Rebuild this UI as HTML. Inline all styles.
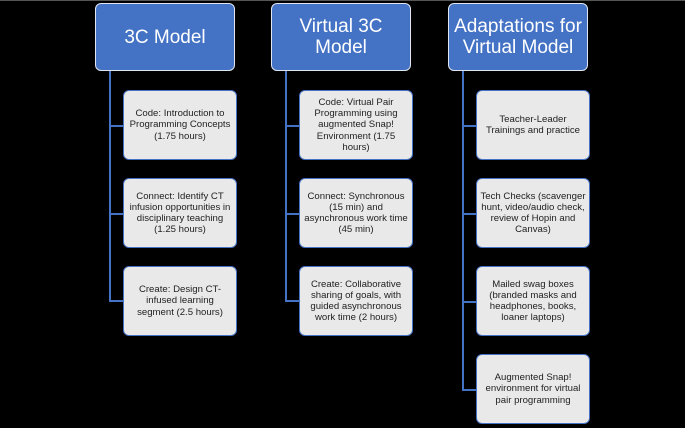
<!DOCTYPE html>
<html><head><style>
body{margin:0;width:685px;height:428px;background:#000;position:relative;overflow:hidden;font-family:"Liberation Sans",sans-serif}
.h{position:absolute;top:3px;width:140px;height:68px;background:#4472C4;border:1.5px solid #dfe6f2;border-radius:6px;color:#fff;font-size:19px;line-height:21px;display:flex;align-items:center;justify-content:center;text-align:center;box-sizing:border-box}
.c{position:absolute;width:114px;height:70px;background:#e9e9e9;border:1.5px solid #4472C4;border-radius:6px;color:#222;font-size:9.6px;line-height:11.2px;display:flex;align-items:center;justify-content:center;text-align:center;box-sizing:border-box;padding:0 3px}
.v{position:absolute;width:1.5px;background:#4472C4}
.t{position:absolute;height:1.5px;background:#4472C4}
</style></head><body>
<div style="position:absolute;top:0;left:0;width:685px;height:1px;background:#555"></div>
<div class="h" style="left:95px">3C Model</div>
<div class="h" style="left:271px">Virtual 3C<br>Model</div>
<div class="h" style="left:448px">Adaptations for<br>Virtual Model</div>

<div class="v" style="left:109px;top:71px;height:230px"></div>
<div class="t" style="left:109px;top:125px;width:14px"></div>
<div class="t" style="left:109px;top:213px;width:14px"></div>
<div class="t" style="left:109px;top:300px;width:14px"></div>
<div class="c" style="left:123px;top:90px">Code: Introduction to Programming Concepts (1.75 hours)</div>
<div class="c" style="left:123px;top:178px">Connect: Identify CT infusion opportunities in disciplinary teaching (1.25 hours)</div>
<div class="c" style="left:123px;top:266px">Create: Design CT-infused learning segment (2.5 hours)</div>

<div class="v" style="left:285px;top:71px;height:230px"></div>
<div class="t" style="left:285px;top:125px;width:15px"></div>
<div class="t" style="left:285px;top:213px;width:15px"></div>
<div class="t" style="left:285px;top:300px;width:15px"></div>
<div class="c" style="left:299px;top:90px">Code: Virtual Pair Programming using augmented Snap! Environment (1.75 hours)</div>
<div class="c" style="left:299px;top:178px">Connect: Synchronous (15 min) and asynchronous work time (45 min)</div>
<div class="c" style="left:299px;top:266px">Create: Collaborative sharing of goals, with guided asynchronous work time (2 hours)</div>

<div class="v" style="left:462px;top:71px;height:319px"></div>
<div class="t" style="left:462px;top:125px;width:14px"></div>
<div class="t" style="left:462px;top:213px;width:14px"></div>
<div class="t" style="left:462px;top:301px;width:14px"></div>
<div class="t" style="left:462px;top:389px;width:14px"></div>
<div class="c" style="left:476px;top:90px">Teacher-Leader Trainings and practice</div>
<div class="c" style="left:476px;top:178px">Tech Checks (scavenger hunt, video/audio check, review of Hopin and Canvas)</div>
<div class="c" style="left:476px;top:266px">Mailed swag boxes (branded masks and headphones, books, loaner laptops)</div>
<div class="c" style="left:476px;top:354px">Augmented Snap! environment for virtual pair programming</div>
</body></html>
